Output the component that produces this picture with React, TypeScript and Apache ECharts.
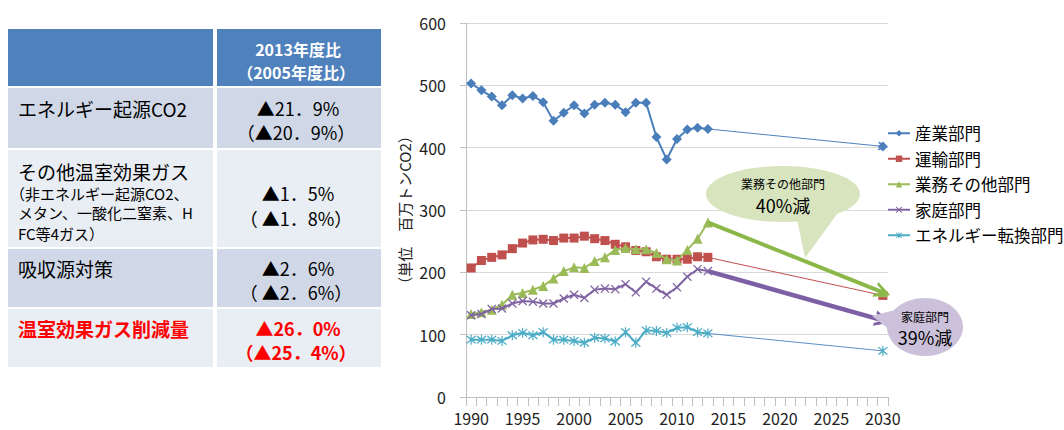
import React, { useEffect, useRef } from "react";
import * as echarts from "echarts";

const FONT = '"Noto Sans CJK JP", "Noto Sans", sans-serif';

// categories 1990..2030
const years: string[] = [];
for (let y = 1990; y <= 2030; y++) years.push(String(y));

const seriesNames = ["産業部門", "運輸部門", "業務その他部門", "家庭部門", "エネルギー転換部門"];

// actual values 1990..2013
const industry = [503, 492, 482, 468, 484, 479, 483, 473, 443, 456, 468, 455, 469, 472, 469, 457, 472, 472, 417, 381, 414, 429, 432, 430];
const transport = [207, 219, 224, 228, 238, 247, 252, 253, 251, 255, 255, 258, 254, 251, 245, 241, 235, 233, 225, 221, 221, 221, 225, 224];
const commercial = [133, 136, 140, 148, 164, 167, 172, 178, 190, 202, 208, 207, 218, 224, 236, 239, 237, 237, 231, 221, 219, 236, 254, 280];
const household = [131, 133, 141, 142, 150, 154, 153, 150, 150, 158, 164, 159, 172, 174, 173, 181, 168, 185, 174, 164, 176, 193, 205, 202];
const energy = [92, 92, 92, 90, 99, 103, 99, 104, 92, 92, 90, 87, 95, 94, 89, 104, 87, 107, 106, 103, 111, 112, 104, 102];
// 2030 targets
const target2030 = [402, 163, 168, 123, 74];

const yTicks = { min: 0, max: 600, interval: 100 };

const tableHeader = ["2013年度比", "（2005年度比）"];
const tableLabels = [
  ["エネルギー起源CO2"],
  ["その他温室効果ガス", "（非エネルギー起源CO2、", "メタン、一酸化二窒素、H", "FC等4ガス）"],
  ["吸収源対策"],
  ["温室効果ガス削減量"],
];
const tableValues = [
  ["▲21．9%", "（▲20．9%）"],
  ["▲1．5%", "（ ▲1．8%）"],
  ["▲2．6%", "（ ▲2．6%）"],
  ["▲26．0%", "（▲25．4%）"],
];

const callout1 = ["業務その他部門", "40%減"];
const callout2 = ["家庭部門", "39%減"];

const X_SYMBOL = "path://M1,0 L5,4 L9,0 L10,1 L6,5 L10,9 L9,10 L5,6 L1,10 L0,9 L4,5 L0,1 Z";
const STAR_SYMBOL =
  "path://M1,0 L5,4 L9,0 L10,1 L6,5 L10,9 L9,10 L5,6 L1,10 L0,9 L4,5 L0,1 Z M4.4,-1 L5.6,-1 L5.6,11 L4.4,11 Z";
const CHEVRON = "path://M0,10 L5,0 L10,10 L8,10 L5,4 L2,10 Z";

function fullSeries(arr: number[], v2030: number) {
  const d: (number | null)[] = years.map(() => null);
  arr.forEach((v, i) => (d[i] = v));
  d[years.length - 1] = v2030;
  return d;
}

export default function App() {
  const ref = useRef<HTMLDivElement>(null);
  useEffect(() => {
    if (!ref.current) return;
    const chart = echarts.init(ref.current, undefined, { renderer: "svg" });
    const colors = ["#4a7ebb", "#c0504d", "#9bbb59", "#8064a2", "#4bacc6"];
    const symbols = ["diamond", "rect", "triangle", X_SYMBOL, STAR_SYMBOL];
    const symSizes = [10, 9, 10, 9, 10];
    const datas = [industry, transport, commercial, household, energy];
    const projColors = ["#4f81bd", "#c0504d", "#8cb84a", "#7d5fa6", "#5b8fc9"];
    const projWidths = [1, 1, 4, 4.5, 1];
    const projSymbols = [CHEVRON, "none", CHEVRON, CHEVRON, "none"];
    const projSymSizes = [9, 1, 16, 16, 1];

    const series: any[] = datas.map((arr, i) => ({
      name: seriesNames[i],
      type: "line",
      data: fullSeries(arr, target2030[i]),
      connectNulls: false,
      symbol: symbols[i],
      symbolSize: symSizes[i],
      showSymbol: true,
      showAllSymbol: true,
      lineStyle: { color: colors[i], width: 2 },
      itemStyle: { color: colors[i] },
      z: 2 + i,
      markLine: {
        silent: true,
        symbol: ["none", projSymbols[i]],
        symbolSize: projSymSizes[i],
        label: { show: false },
        lineStyle: { color: projColors[i], width: projWidths[i], type: "solid" },
        data: [
          [
            { coord: [years[arr.length - 1], arr[arr.length - 1]] },
            { coord: [years[years.length - 1], target2030[i]] },
          ],
        ],
      },
    }));

    // table graphic
    const graphic: any[] = [];
    const tL = 8, tR = 381, colX = 215;
    const rowsGeom = [
      { y: 88, h: 60, fill: "#d0d8e8" },
      { y: 150, h: 97, fill: "#e9edf4" },
      { y: 249, h: 58, fill: "#d0d8e8" },
      { y: 309, h: 58, fill: "#e9edf4" },
    ];
    graphic.push({ type: "rect", shape: { x: tL, y: 29, width: colX - 2 - tL, height: 57 }, style: { fill: "#4f81bd" } });
    graphic.push({ type: "rect", shape: { x: colX + 2, y: 29, width: tR - colX - 2, height: 57 }, style: { fill: "#4f81bd" } });
    rowsGeom.forEach((r) => {
      graphic.push({ type: "rect", shape: { x: tL, y: r.y, width: colX - 2 - tL, height: r.h }, style: { fill: r.fill } });
      graphic.push({ type: "rect", shape: { x: colX + 2, y: r.y, width: tR - colX - 2, height: r.h }, style: { fill: r.fill } });
    });
    const valCx = 298;
    const txt = (text: string, x: number, y: number, size: number, opts: any = {}) => ({
      type: "text",
      x,
      y,
      style: {
        text,
        fill: opts.fill || "#000",
        fontSize: size,
        fontFamily: FONT,
        fontWeight: opts.bold ? "bold" : "normal",
        align: opts.align || "left",
        verticalAlign: "middle",
      },
      z: 10,
    });
    graphic.push(txt(tableHeader[0], valCx, 49, 16, { fill: "#fff", bold: true, align: "center" }));
    graphic.push(txt(tableHeader[1], valCx - 2, 72, 16, { fill: "#fff", bold: true, align: "center" }));

    const labelYs = [[108], [171, 193, 212, 233], [268], [328]];
    const labelSizes = [[19], [19, 15, 15, 15], [19], [19]];
    const valueYs = [[108, 132], [193, 218], [268, 292], [328, 352]];
    tableLabels.forEach((lines, r) => {
      const red = r === 3;
      lines.forEach((line, j) => {
        const x = line.startsWith("（") ? 10 : 18;
        graphic.push(txt(line, x, labelYs[r][j], labelSizes[r][j], { fill: red ? "#ff0000" : "#000", bold: red }));
      });
      tableValues[r].forEach((v, j) => {
        graphic.push(txt(v, j === 0 ? valCx : valCx - 2, valueYs[r][j], 18, { fill: red ? "#ff0000" : "#000", bold: red, align: "center" }));
      });
    });

    // callouts
    graphic.push({
      type: "polygon",
      shape: { points: [[796, 214], [840, 210], [805, 258]] },
      style: { fill: "#d7e4bd" },
      z: 50,
    });
    graphic.push({ type: "ellipse", shape: { cx: 783, cy: 194, rx: 77, ry: 28 }, style: { fill: "#d7e4bd" }, z: 50 });
    graphic.push({ ...txt(callout1[0], 783, 183, 12, { align: "center" }), z: 51 });
    graphic.push({ ...txt(callout1[1], 783, 205, 18, { align: "center" }), z: 51 });

    graphic.push({
      type: "polygon",
      shape: { points: [[895, 310], [872, 316], [895, 334]] },
      style: { fill: "#ccc1da" },
      z: 50,
    });
    graphic.push({ type: "ellipse", shape: { cx: 925, cy: 327, rx: 38, ry: 29 }, style: { fill: "#ccc1da" }, z: 50 });
    graphic.push({ ...txt(callout2[0], 925, 316, 12, { align: "center" }), z: 51 });
    graphic.push({ ...txt(callout2[1], 925, 337, 18, { align: "center" }), z: 51 });

    chart.setOption({
      animation: false,
      textStyle: { fontFamily: FONT },
      grid: { left: 466, right: 1064 - 888, top: 23, bottom: 430 - 397, containLabel: false },
      legend: {
        orient: "vertical",
        left: 882,
        top: 120,
        itemWidth: 22,
        itemHeight: 8,
        itemGap: 9,
        data: seriesNames,
        textStyle: { fontSize: 16.5, color: "#000", fontFamily: FONT },
      },
      xAxis: {
        type: "category",
        data: years,
        boundaryGap: true,
        axisLine: { lineStyle: { color: "#bfbfbf" } },
        axisTick: { show: true, interval: 0, length: 9, lineStyle: { color: "#bfbfbf" } },
        axisLabel: { interval: 4, fontSize: 16, color: "#222", margin: 13, fontFamily: FONT },
        splitLine: { show: false },
      },
      yAxis: {
        type: "value",
        min: yTicks.min,
        max: yTicks.max,
        interval: yTicks.interval,
        name: "（単位　百万トンCO2）",
        nameLocation: "middle",
        nameGap: 54,
        nameTextStyle: { fontSize: 15, color: "#222", fontFamily: FONT },
        axisLine: { show: true, lineStyle: { color: "#bfbfbf" } },
        axisTick: { show: true, length: 6, lineStyle: { color: "#bfbfbf" } },
        axisLabel: { fontSize: 16, color: "#222", margin: 20, fontFamily: FONT },
        splitLine: { show: true, lineStyle: { color: "#d9d9d9" } },
      },
      series,
      graphic,
    });
    return () => chart.dispose();
  }, []);
  return (
    <div
      ref={ref}
      style={{ position: "fixed", left: 0, top: 0, width: 1064, height: 430, background: "#fff" }}
    />
  );
}
